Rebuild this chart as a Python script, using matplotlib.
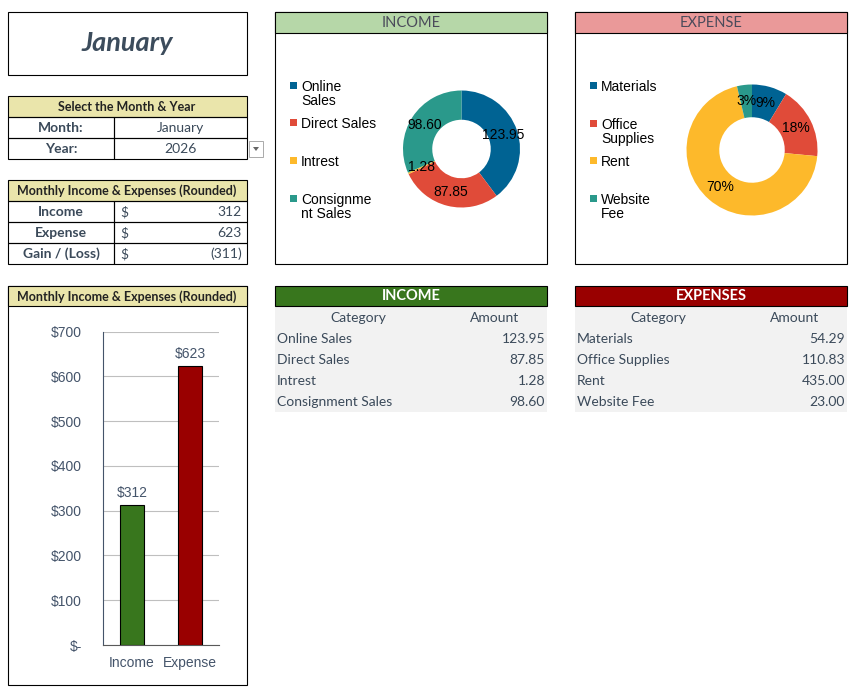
import numpy as np
import matplotlib
matplotlib.use("Agg")
import matplotlib.pyplot as plt
from matplotlib.patches import Rectangle, Polygon

# ---------------------------------------------------------
# Data
# ---------------------------------------------------------
month = "January"
year = "2026"

income_cats = ["Online Sales", "Direct Sales", "Intrest", "Consignment Sales"]
income_vals = [123.95, 87.85, 1.28, 98.60]
income_legend = ["Online\nSales", "Direct Sales", "Intrest", "Consignme\nnt Sales"]

expense_cats = ["Materials", "Office Supplies", "Rent", "Website Fee"]
expense_vals = [54.29, 110.83, 435.00, 23.00]
expense_legend = ["Materials", "Office\nSupplies", "Rent", "Website\nFee"]

summary_labels = ["Income", "Expense"]

pie_colors = ["#006393", "#e04b39", "#fdb92b", "#2a998b"]
bar_colors = ["#38761d", "#990000"]

W, H = 858, 691
TXT = "#3b4a5a"
YEL = "#eae5ab"
TFONT = "Lato"
CFONT = "Liberation Sans"

fig = plt.figure(figsize=(W / 100, H / 100), dpi=100)
bg = fig.add_axes([0, 0, 1, 1])
bg.set_xlim(0, W)
bg.set_ylim(H, 0)
bg.axis("off")


def box(x0, y0, x1, y1, fc="none", ec="black", lw=0.8, z=1):
    bg.add_patch(Rectangle((x0, y0), x1 - x0, y1 - y0, facecolor=fc,
                           edgecolor=ec, linewidth=lw, zorder=z))


def txt(x, y, s, ha="center", size=10, weight="normal", color=TXT,
        family=TFONT, style="normal"):
    bg.text(x, y, s, ha=ha, va="center", fontsize=size, fontweight=weight,
            color=color, family=family, style=style, zorder=5)


def px_axes(x0, y0, x1, y1):
    return fig.add_axes([x0 / W, (H - y1) / H, (x1 - x0) / W, (y1 - y0) / H])


def round_pcts(vals):
    # largest remainder, so the labels add up to 100
    raw = np.array(vals) / sum(vals) * 100
    base = np.floor(raw).astype(int)
    left = 100 - base.sum()
    order = np.argsort(-(raw - base))
    base[order[:left]] += 1
    return base


income_total = round(sum(income_vals))
expense_total = round(sum(expense_vals))
gain = income_total - expense_total

# ---------------------------------------------------------
# Month title
# ---------------------------------------------------------
box(8, 12, 247, 75)
txt(127, 43, month, size=19.5, weight="bold", style="italic", color="#3c4c5c")

# ---------------------------------------------------------
# Select month & year table
# ---------------------------------------------------------
box(8, 96, 247, 117, fc=YEL)
box(8, 117, 114, 138)
box(114, 117, 247, 138)
box(8, 138, 114, 159)
box(114, 138, 247, 159)
txt(127, 107, "Select the Month & Year", size=9, weight="bold", color="#222222")
txt(61, 128, "Month:", size=10, weight="bold")
txt(180, 128, month, size=10)
txt(61, 149, "Year:", size=10, weight="bold")
txt(180, 149, year, size=10)
box(249, 141, 263, 157, fc="white", ec="#aaaaaa", lw=0.7)
bg.add_patch(Polygon([[253, 147], [259, 147], [256, 151]], closed=True,
                     facecolor="#666666", edgecolor="none", zorder=3))

# ---------------------------------------------------------
# Monthly summary table
# ---------------------------------------------------------
box(8, 180, 247, 201, fc=YEL)
txt(127, 191, "Monthly Income & Expenses (Rounded)", size=9, weight="bold",
    color="#222222")
rows = [("Income", f"{income_total:,}"),
        ("Expense", f"{expense_total:,}"),
        ("Gain / (Loss)", f"({abs(gain):,})" if gain < 0 else f"{gain:,} ")]
for i, (lab, val) in enumerate(rows):
    y0 = 201 + 21 * i
    box(8, y0, 114, y0 + 21)
    box(114, y0, 247, y0 + 21)
    txt(61, y0 + 11, lab, size=10, weight="bold")
    txt(120, y0 + 11, "$", ha="left", size=10)
    txt(242, y0 + 11, val, ha="right", size=10)

# ---------------------------------------------------------
# Donut panels
# ---------------------------------------------------------
panels = [
    (275, "INCOME", "#b6d7a8", income_vals, income_legend,
     (461.5, 149, 58.5), lambda v, i: f"{v:.2f}"),
    (575, "EXPENSE", "#ea9999", expense_vals, expense_legend,
     (752, 150, 65.5), None),
]
legend_ys = [[85, 122, 160, 198], [85, 123, 160, 198]]

for k, (x0, title, hcol, vals, leg, (cx, cy, r), fmt) in enumerate(panels):
    box(x0, 12, x0 + 272, 264)
    box(x0, 12, x0 + 272, 33, fc=hcol)
    txt(x0 + 136, 23, title, size=10.5, color="#4a4a5a")

    # legend
    for j, lab in enumerate(leg):
        y = legend_ys[k][j]
        bg.add_patch(Rectangle((x0 + 15, y - 3.5), 7, 7, facecolor=pie_colors[j],
                               edgecolor="none", zorder=3))
        bg.text(x0 + 26, y - 5.5, lab, ha="left", va="top", fontsize=10,
                family=CFONT, color="black", linespacing=1.0, zorder=5)

    ax = px_axes(cx - r, cy - r, cx + r, cy + r)
    wedges, _ = ax.pie(vals, colors=pie_colors, startangle=90, counterclock=False,
                       wedgeprops=dict(width=0.5, linewidth=0), radius=1)
    ax.set_xlim(-1, 1)
    ax.set_ylim(-1, 1)
    ax.set_aspect("equal")
    ax.axis("off")
    if fmt is None:
        labels = [f"{p}%" for p in round_pcts(vals)]
    else:
        labels = [fmt(v, i) for i, v in enumerate(vals)]
    for w, lab in zip(wedges, labels):
        ang = np.deg2rad((w.theta1 + w.theta2) / 2)
        ax.text(0.75 * np.cos(ang), 0.75 * np.sin(ang), lab, ha="center",
                va="center", fontsize=10, family=CFONT, color="black",
                clip_on=False)

# ---------------------------------------------------------
# Detail tables
# ---------------------------------------------------------
tables = [(275, "INCOME", "#38761d", income_cats, income_vals),
          (575, "EXPENSES", "#990000", expense_cats, expense_vals)]
for x0, title, hcol, cats, vals in tables:
    box(x0, 286, x0 + 272, 306, fc=hcol)
    txt(x0 + 136, 296, title, size=10.5, weight="bold", color="white")
    bg.add_patch(Rectangle((x0, 306), 272, 106, facecolor="#f2f2f2",
                           edgecolor="none", zorder=0))
    txt(x0 + 83, 317.5, "Category", size=10)
    txt(x0 + 220, 317.5, "Amount", size=10)
    for i, (c, v) in enumerate(zip(cats, vals)):
        y = 338.5 + 21 * i
        txt(x0 + 2, y, c, ha="left", size=10)
        txt(x0 + 270, y, f"{v:,.2f}", ha="right", size=10)

# ---------------------------------------------------------
# Bar chart panel
# ---------------------------------------------------------
box(8, 286, 247, 685)
box(8, 286, 247, 306, fc=YEL)
txt(127, 297, "Monthly Income & Expenses (Rounded)", size=9, weight="bold",
    color="#222222")

bax = px_axes(103, 331.7, 219, 645)
bar_vals = [income_total, expense_total]
bars = bax.bar(range(len(bar_vals)), bar_vals, width=0.4, color=bar_colors,
               edgecolor="black", linewidth=0.8, zorder=3)
bax.set_xlim(-0.5, 1.5)
bax.set_ylim(0, 700)
bax.set_yticks(range(0, 701, 100))
bax.set_yticklabels(["$-" if v == 0 else f"${v:,}" for v in range(0, 701, 100)],
                    family=CFONT, fontsize=10, color="#44546a")
bax.set_xticks(range(len(bar_vals)))
bax.set_xticklabels(summary_labels, family=CFONT, fontsize=10, color="#44546a")
bax.tick_params(length=0, pad=15, axis="y")
bax.tick_params(length=0, pad=8, axis="x")
bax.grid(axis="y", color="#bfbfbf", linewidth=0.8, zorder=0)
bax.set_facecolor("none")
for s in ["top", "right"]:
    bax.spines[s].set_visible(False)
bax.spines["left"].set_color("#44546a")
bax.spines["bottom"].set_color("#595959")
for b, v in zip(bars, bar_vals):
    bax.text(b.get_x() + b.get_width() / 2, v + 12, f"${v:,}", ha="center",
             va="bottom", family=CFONT, fontsize=10, color="#44546a")

fig.savefig("out.png", dpi=100)
